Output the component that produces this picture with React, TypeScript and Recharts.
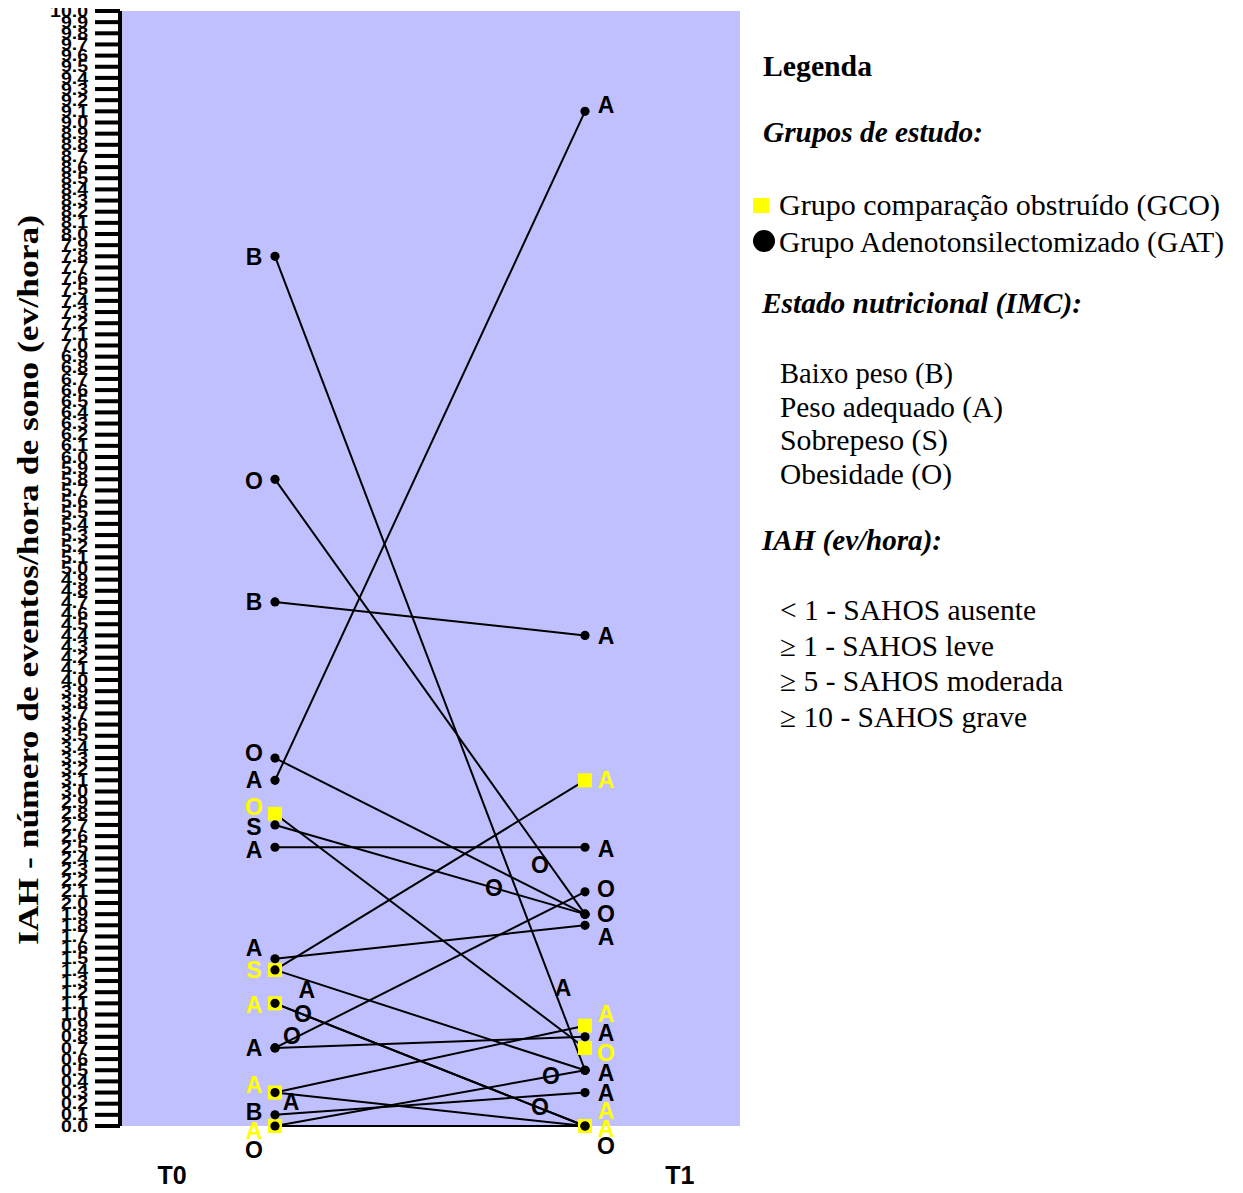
import React from "react";
import {
  ComposedChart,
  Line,
  Scatter,
  XAxis,
  YAxis,
  CartesianGrid,
  ReferenceDot,
} from "recharts";

// ---------------- data ----------------
const timeCategories = ["T0", "T1"];
const yTicks = Array.from({ length: 101 }, (_, i) => i / 10);

// Grupo Adenotonsilectomizado (GAT): IAH at T0 and T1, one entry per child
const gatT0 = [7.8, 5.8, 4.7, 3.3, 3.1, 2.7, 2.5, 1.5, 1.4, 1.1, 0.7, 0.7, 0.3, 0.1, 0.0];
const gatT1 = [0.5, 1.9, 4.4, 1.9, 9.1, 1.9, 2.5, 1.8, 0.5, 0.0, 2.1, 0.8, 0.0, 0.3, 0.5];

// Grupo comparação obstruído (GCO)
const gcoT0 = [2.8, 1.4, 1.1, 0.3, 0.0];
const gcoT1 = [0.7, 3.1, 0.0, 0.9, 0.0];

// nutritional-state letters next to T0 points
const t0LabelText = ["B", "O", "B", "O", "A", "O", "S", "A", "A", "S", "A", "A", "A", "B", "A", "O"];
const t0LabelValue = [7.8, 5.79, 4.7, 3.35, 3.11, 2.86, 2.68, 2.48, 1.6, 1.4, 1.09, 0.7, 0.37, 0.13, -0.04, -0.21];
const t0LabelGroup = ["GAT", "GAT", "GAT", "GAT", "GAT", "GCO", "GAT", "GAT", "GAT", "GCO", "GCO", "GAT", "GCO", "GAT", "GCO", "GAT"];

// nutritional-state letters next to T1 points
const t1LabelText = ["A", "A", "A", "A", "O", "O", "A", "A", "A", "O", "A", "A", "A", "A", "O"];
const t1LabelValue = [9.16, 4.4, 3.11, 2.49, 2.13, 1.9, 1.7, 1.01, 0.84, 0.66, 0.48, 0.3, 0.14, -0.02, -0.18];
const t1LabelGroup = ["GAT", "GAT", "GCO", "GAT", "GAT", "GAT", "GAT", "GCO", "GAT", "GCO", "GAT", "GAT", "GCO", "GCO", "GAT"];

// letters lying on the connecting lines (x: 0 = T0, 1 = T1)
const midLabelText = ["A", "O", "O", "A", "O", "O", "A", "O", "O"];
const midLabelX = [0.103, 0.09, 0.055, 0.052, 0.855, 0.706, 0.929, 0.89, 0.855];
const midLabelValue = [1.22, 1.01, 0.81, 0.215, 2.34, 2.14, 1.24, 0.45, 0.17];

const yAxisTitle = "IAH - número de eventos/hora de sono (ev/hora)";
const legendTitle = "Legenda";
const legendGroupsTitle = "Grupos de estudo:";
const legendGroups = ["Grupo comparação obstruído (GCO)", "Grupo Adenotonsilectomizado (GAT)"];
const legendImcTitle = "Estado nutricional (IMC):";
const legendImc = ["Baixo peso (B)", "Peso adequado (A)", "Sobrepeso (S)", "Obesidade (O)"];
const legendIahTitle = "IAH (ev/hora):";
const legendIah = ["< 1 - SAHOS ausente", "≥ 1 - SAHOS leve", "≥ 5 - SAHOS moderada", "≥ 10 - SAHOS grave"];

// ---------------- styling ----------------
const PLOT_BG = "#c0c0ff";
const YELLOW = "#ffff00";
const SANS = "'Liberation Sans', Arial, sans-serif";
const SERIF = "'Liberation Serif', 'Times New Roman', serif";
const timeTickPos = [-0.332, 1.306];

const groupColor = (g: string) => (g === "GCO" ? YELLOW : "#000");

const YTick = (props: any) => {
  const { x, y, payload } = props;
  return (
    <g transform={`translate(${x},${y}) scale(1,0.8)`}>
      <text x={0} y={0} dy="0.36em" textAnchor="end" fontFamily={SANS} fontWeight="bold" fontSize={19.5} fill="#000">
        {Number(payload.value).toFixed(1)}
      </text>
    </g>
  );
};

const XTick = (props: any) => {
  const { x, y, payload } = props;
  const label = payload.value < 0.5 ? timeCategories[0] : timeCategories[1];
  return (
    <text x={x} y={y + 58} textAnchor="middle" fontFamily={SANS} fontWeight="bold" fontSize={25} fill="#000">
      {label}
    </text>
  );
};

const BlackDot = (props: any) => {
  const { cx, cy } = props;
  return <circle cx={cx} cy={cy} r={4.6} fill="#000" />;
};

const YellowSquare = (props: any) => {
  const { cx, cy } = props;
  return <rect x={cx - 7} y={cy - 7} width={14} height={14} fill={YELLOW} />;
};

const letterShape = (text: string, color: string, dx: number) => (props: any) => (
  <text
    x={props.cx + dx}
    y={props.cy}
    dy="0.36em"
    textAnchor="middle"
    fontFamily={SANS}
    fontWeight="bold"
    fontSize={23}
    fill={color}
  >
    {text}
  </text>
);

export default function App() {
  const gatPoints = [
    ...gatT0.map((v) => ({ x: 0, y: v })),
    ...gatT1.map((v) => ({ x: 1, y: v })),
  ];
  const gcoPoints = [
    ...gcoT0.map((v) => ({ x: 0, y: v })),
    ...gcoT1.map((v) => ({ x: 1, y: v })),
  ];
  const pairs = [
    ...gatT0.map((v, i) => [v, gatT1[i]]),
    ...gcoT0.map((v, i) => [v, gcoT1[i]]),
  ];

  const legendTextProps = { fontFamily: SERIF, fontSize: 29, fill: "#000", lengthAdjust: "spacingAndGlyphs" as any };

  return (
    <div style={{ position: "relative", width: 1227, height: 1177 }}>
      <style>{`.recharts-surface{overflow:visible}`}</style>
      <ComposedChart width={732} height={1177} margin={{ top: 3, right: 0, bottom: 0, left: 0 }}>
        <CartesianGrid fill={PLOT_BG} stroke="none" horizontal={false} vertical={false} />
        <XAxis
          type="number"
          dataKey="x"
          domain={[-0.5, 1.5]}
          ticks={timeTickPos}
          interval={0}
          tick={<XTick />}
          axisLine={false}
          tickLine={false}
          tickSize={0}
          tickMargin={0}
          height={59}
        />
        <YAxis
          type="number"
          dataKey="y"
          domain={[0, 10]}
          ticks={yTicks}
          interval={0}
          width={112}
          tickSize={25}
          tickMargin={7}
          tick={<YTick />}
          axisLine={{ stroke: "#000", strokeWidth: 4 }}
          tickLine={{ stroke: "#000", strokeWidth: 4 }}
        />
        <Scatter data={gcoPoints} dataKey="y" shape={YellowSquare} isAnimationActive={false} />
        {pairs.map((p, i) => (
          <Line
            key={"l" + i}
            data={[
              { x: 0, y: p[0] },
              { x: 1, y: p[1] },
            ]}
            dataKey="y"
            type="linear"
            stroke="#000"
            strokeWidth={2}
            dot={false}
            activeDot={false}
            isAnimationActive={false}
          />
        ))}
        <Scatter data={gatPoints} dataKey="y" shape={BlackDot} isAnimationActive={false} />
        {t0LabelText.map((t, i) => (
          <ReferenceDot
            key={"a" + i}
            x={0}
            y={t0LabelValue[i]}
            ifOverflow="visible"
            shape={letterShape(t, groupColor(t0LabelGroup[i]), -21)}
          />
        ))}
        {t1LabelText.map((t, i) => (
          <ReferenceDot
            key={"b" + i}
            x={1}
            y={t1LabelValue[i]}
            ifOverflow="visible"
            shape={letterShape(t, groupColor(t1LabelGroup[i]), 21)}
          />
        ))}
        {midLabelText.map((t, i) => (
          <ReferenceDot
            key={"c" + i}
            x={midLabelX[i]}
            y={midLabelValue[i]}
            ifOverflow="visible"
            shape={letterShape(t, "#000", 0)}
          />
        ))}
      </ComposedChart>

      <svg
        width={1227}
        height={1177}
        style={{ position: "absolute", left: 0, top: 0, pointerEvents: "none", overflow: "visible" }}
      >
        <text
          transform="translate(30,572) rotate(-90)"
          textAnchor="middle"
          fontFamily={SERIF}
          fontWeight="bold"
          fontSize={30}
          textLength={730}
          lengthAdjust="spacingAndGlyphs"
          fill="#000"
        >
          {yAxisTitle}
        </text>

        <text x={755} y={68} fontWeight="bold" textLength={109} {...legendTextProps}>
          {legendTitle}
        </text>
        <text x={755} y={134} fontWeight="bold" fontStyle="italic" textLength={220} {...legendTextProps}>
          {legendGroupsTitle}
        </text>
        <rect x={745} y={190} width={16} height={15} fill={YELLOW} />
        <text x={771} y={207} textLength={441} {...legendTextProps}>
          {legendGroups[0]}
        </text>
        <circle cx={756} cy={233} r={11} fill="#000" />
        <text x={771} y={244} textLength={445} {...legendTextProps}>
          {legendGroups[1]}
        </text>

        <text x={754} y={305} fontWeight="bold" fontStyle="italic" textLength={320} {...legendTextProps}>
          {legendImcTitle}
        </text>
        {legendImc.map((t, i) => (
          <text key={"imc" + i} x={772} y={375 + i * 33.5} textLength={[173, 223, 168, 172][i]} {...legendTextProps}>
            {t}
          </text>
        ))}

        <text x={754} y={542} fontWeight="bold" fontStyle="italic" textLength={180} {...legendTextProps}>
          {legendIahTitle}
        </text>
        {legendIah.map((t, i) => (
          <text key={"iah" + i} x={772} y={612 + i * 35.7} textLength={[256, 214, 283, 247][i]} {...legendTextProps}>
            {t}
          </text>
        ))}
      </svg>
    </div>
  );
}
